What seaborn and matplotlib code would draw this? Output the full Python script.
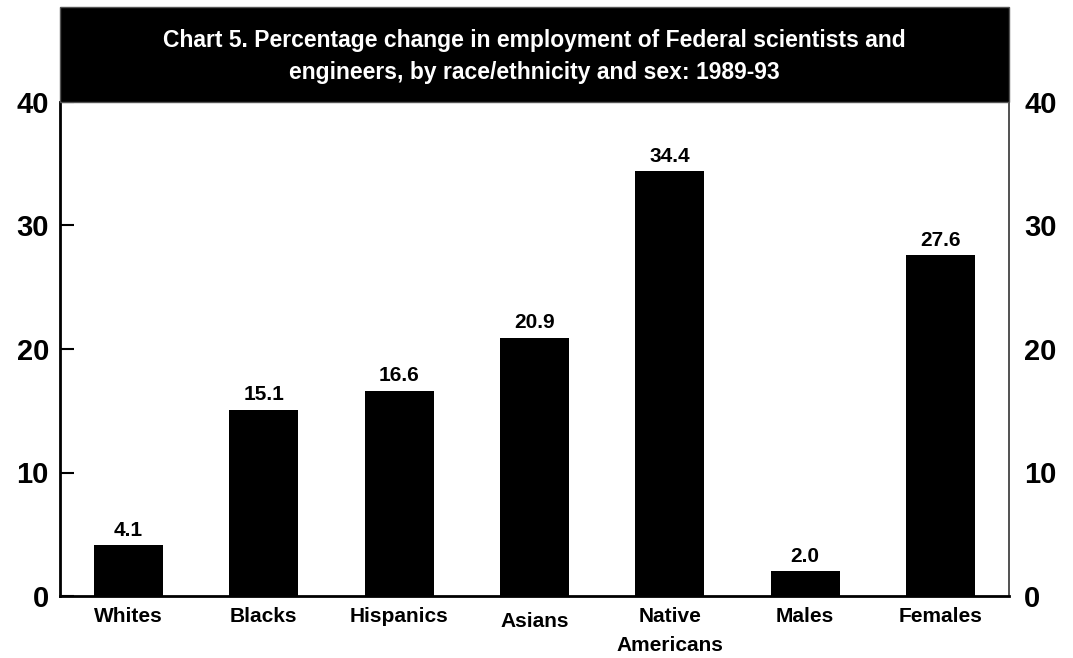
import matplotlib
matplotlib.use("Agg")
import matplotlib.pyplot as plt
from matplotlib.patches import Rectangle
import seaborn as sns
import pandas as pd

categories = ["Whites", "Blacks", "Hispanics", "Asians", "Native\nAmericans", "Males", "Females"]
pct_change = [4.1, 15.1, 16.6, 20.9, 34.4, 2.0, 27.6]
y_ticks = [0, 10, 20, 30, 40]
title = ("Chart 5. Percentage change in employment of Federal scientists and\n"
         "engineers, by race/ethnicity and sex: 1989-93")

sns.set_theme(style="white")
plt.rcParams["font.family"] = ["Liberation Sans", "DejaVu Sans"]
for key in ("text.color", "axes.labelcolor", "xtick.color", "ytick.color"):
    plt.rcParams[key] = "black"

df = pd.DataFrame({"category": categories, "value": pct_change})

W, H = 1073, 658
fig = plt.figure(figsize=(W / 100, H / 100), dpi=100)
x0, x1, y_bot, y_top = 60, 1009, 596, 102
ax = fig.add_axes([x0 / W, 1 - y_bot / H, (x1 - x0) / W, (y_bot - y_top) / H])

sns.barplot(data=df, x="category", y="value", color="black", width=0.51,
            saturation=1, ax=ax, edgecolor="none")

ax.set_xlim(-0.506, len(categories) - 1 + 0.506)
ax.set_ylim(0, 40)
ax.set_xlabel("")
ax.set_ylabel("")
ax.set_yticks(y_ticks)
ax.set_yticklabels([str(v) for v in y_ticks], fontsize=21, fontweight="bold")
ax.tick_params(axis="y", direction="in", length=10, width=1.5, color="black",
               left=True, pad=8)
ax.tick_params(axis="x", length=0, pad=8)
for lbl in ax.get_xticklabels():
    lbl.set_fontsize(15)
    lbl.set_fontweight("bold")
    lbl.set_verticalalignment("top")
    lbl.set_linespacing(1.65)
# the Asians label sits a little lower than its neighbours
ax.get_xticklabels()[3].set_y(-0.01)

for side in ("left", "bottom"):
    ax.spines[side].set_linewidth(2)
    ax.spines[side].set_color("black")
ax.spines["right"].set_linewidth(1.2)
ax.spines["right"].set_color("#333333")
ax.spines["top"].set_visible(False)

# right-hand labels without tick marks
ax2 = ax.twinx()
ax2.set_ylim(0, 40)
ax2.set_yticks(y_ticks)
ax2.set_yticklabels([str(v) for v in y_ticks], fontsize=21, fontweight="bold")
ax2.tick_params(axis="y", length=0, pad=11)
for s in ax2.spines.values():
    s.set_visible(False)

# value labels above each bar
for i, v in enumerate(pct_change):
    ax.text(i, v + 0.45, f"{v:.1f}", ha="center", va="bottom",
            fontsize=15, fontweight="bold")

# black title banner above the plot area
fig.patches.append(Rectangle((x0 / W, 1 - y_top / H), (x1 - x0) / W, (y_top - 7) / H,
                             transform=fig.transFigure, facecolor="black",
                             edgecolor="#555555", linewidth=1, zorder=0))
fig.text((x0 + x1) / 2 / W, 1 - 56 / H, title, ha="center", va="center",
         color="white", fontsize=16.5, fontweight="bold", linespacing=1.5)

fig.savefig("out.png", dpi=100, facecolor="white")
